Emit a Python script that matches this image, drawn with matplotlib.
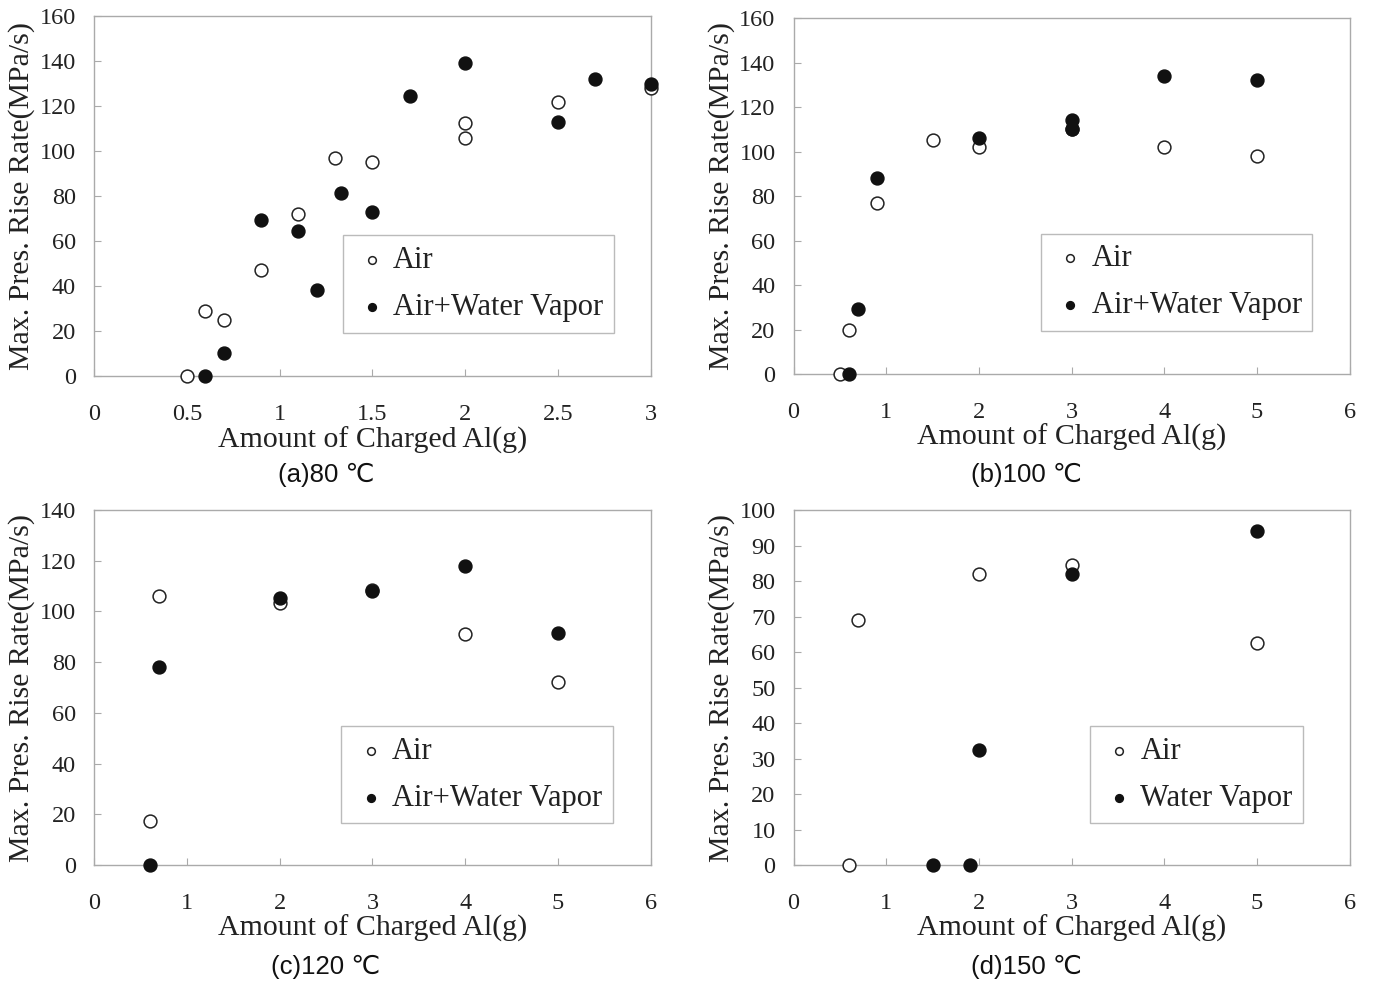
import matplotlib
matplotlib.use('Agg')
import matplotlib.pyplot as plt

# (a) 80 C
a_air_x = [0.5, 0.6, 0.7, 0.9, 1.1, 1.3, 1.5, 2.0, 2.0, 2.5, 3.0]
a_air_y = [0, 29, 25, 47, 72, 97, 95, 112.5, 106, 122, 128]
a_wv_x = [0.6, 0.7, 0.9, 1.1, 1.2, 1.33, 1.5, 1.7, 2.0, 2.5, 2.7, 3.0]
a_wv_y = [0, 10.5, 69.5, 64.5, 38.5, 81.5, 73, 124.5, 139, 113, 132, 130]

# (b) 100 C
b_air_x = [0.5, 0.6, 0.9, 1.5, 2, 3, 4, 5]
b_air_y = [0, 20, 77, 105, 102, 110, 102, 98]
b_wv_x = [0.6, 0.7, 0.9, 2, 3, 3, 4, 5]
b_wv_y = [0, 29, 88, 106, 114, 110, 134, 132]

# (c) 120 C
c_air_x = [0.6, 0.7, 2, 3, 4, 5]
c_air_y = [17.5, 106, 103.5, 108.5, 91, 72]
c_wv_x = [0.6, 0.7, 2, 3, 4, 5]
c_wv_y = [0, 78, 105.5, 108, 118, 91.5]

# (d) 150 C
d_air_x = [0.6, 0.7, 2, 3, 5]
d_air_y = [0, 69, 82, 84.5, 62.5]
d_wv_x = [1.5, 1.9, 2, 3, 5]
d_wv_y = [0, 0, 32.5, 82, 94]

a_xticks = [0, 0.5, 1, 1.5, 2, 2.5, 3]
a_xlabels = ['0', '0.5', '1', '1.5', '2', '2.5', '3']
wide_xticks = [0, 1, 2, 3, 4, 5, 6]
wide_xlabels = ['0', '1', '2', '3', '4', '5', '6']

panels = [
    dict(pos=[0.0685, 0.618, 0.4055, 0.3658], air=(a_air_x, a_air_y), wv=(a_wv_x, a_wv_y),
         xlim=3, xt=a_xticks, xl=a_xlabels, ymax=160, ystep=20,
         wv_label='Air+Water Vapor', leg=(0.69, 0.256), cap='(a)80 ℃', cap_xy=(0.2374, 0.5178)),
    dict(pos=[0.578, 0.6203, 0.405, 0.3614], air=(b_air_x, b_air_y), wv=(b_wv_x, b_wv_y),
         xlim=6, xt=wide_xticks, xl=wide_xlabels, ymax=160, ystep=20,
         wv_label='Air+Water Vapor', leg=(0.689, 0.258), cap='(b)100 ℃', cap_xy=(0.7473, 0.5178)),
    dict(pos=[0.0685, 0.1218, 0.4055, 0.3604], air=(c_air_x, c_air_y), wv=(c_wv_x, c_wv_y),
         xlim=6, xt=wide_xticks, xl=wide_xlabels, ymax=140, ystep=20,
         wv_label='Air+Water Vapor', leg=(0.688, 0.254), cap='(c)120 ℃', cap_xy=(0.2374, 0.0183)),
    dict(pos=[0.578, 0.1218, 0.405, 0.3604], air=(d_air_x, d_air_y), wv=(d_wv_x, d_wv_y),
         xlim=6, xt=wide_xticks, xl=wide_xlabels, ymax=100, ystep=10,
         wv_label='Water Vapor', leg=(0.725, 0.254), cap='(d)150 ℃', cap_xy=(0.7473, 0.0183)),
]

plt.rcParams['font.family'] = ['Liberation Serif', 'DejaVu Serif']

fig = plt.figure(figsize=(13.73, 9.85), dpi=100)

for p in panels:
    ax = fig.add_axes(p['pos'])
    ax.scatter(p['air'][0], p['air'][1], s=85, facecolors='white', edgecolors='#222222',
               linewidths=1.1, label='Air', clip_on=False, zorder=3)
    ax.scatter(p['wv'][0], p['wv'][1], s=85, facecolors='#111111', edgecolors='#111111',
               linewidths=1.1, label=p['wv_label'], clip_on=False, zorder=4)
    ax.set_xlim(0, p['xlim'])
    ax.set_ylim(0, p['ymax'])
    ax.set_xticks(p['xt'])
    ax.set_xticklabels(p['xl'])
    ax.set_yticks(range(0, p['ymax'] + 1, p['ystep']))
    ax.tick_params(direction='in', length=5, color='#aaaaaa', labelsize=17.5, labelcolor='#222222')
    ax.tick_params(axis='x', pad=20)
    ax.tick_params(axis='y', pad=13)
    for sp in ax.spines.values():
        sp.set_color('#aaaaaa')
        sp.set_linewidth(1)
    ax.set_xlabel('Amount of Charged Al(g)', fontsize=21.5, labelpad=1, color='#222222')
    ax.set_ylabel('Max. Pres. Rise Rate(MPa/s)', fontsize=21.5, labelpad=3, color='#222222')
    leg = ax.legend(loc='center', bbox_to_anchor=p['leg'], fontsize=22, fancybox=False,
                    markerscale=0.6, handletextpad=0.1, labelspacing=0.58,
                    borderpad=0.35, borderaxespad=0, framealpha=1, handlelength=1.2,
                    labelcolor='#222222')
    leg.get_frame().set_edgecolor('#bbbbbb')
    leg.get_frame().set_linewidth(1)
    fig.text(p['cap_xy'][0], p['cap_xy'][1], p['cap'], ha='center', va='center',
             fontsize=18.5, color='#111111', family=['Liberation Sans', 'DejaVu Sans'])

fig.savefig('out.png', dpi=100)
